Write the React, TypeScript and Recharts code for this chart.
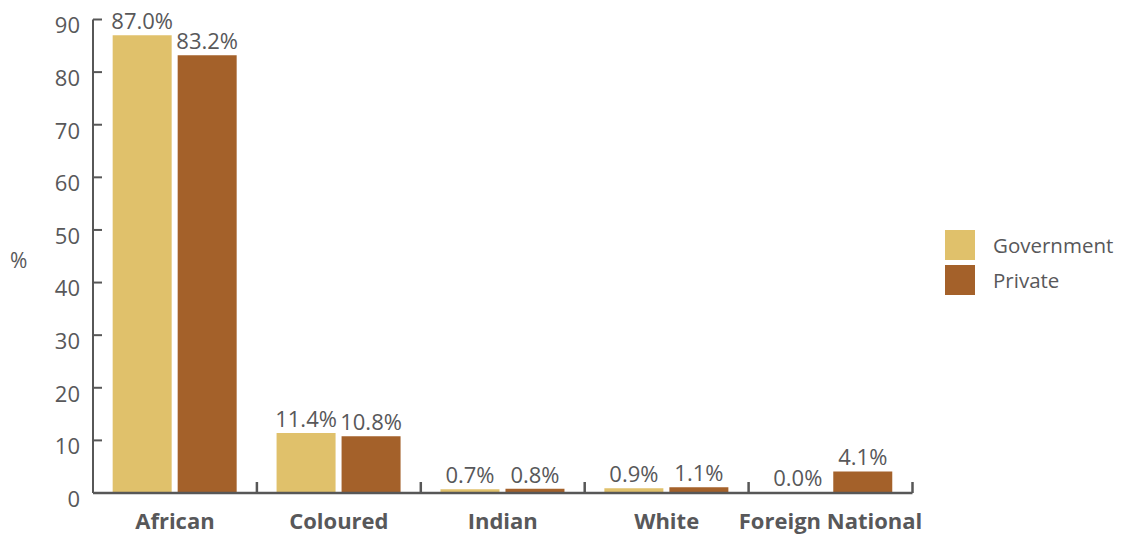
import React from 'react';
import { BarChart, Bar, XAxis, YAxis, Legend, LabelList, Cell } from 'recharts';

const categories = ['African', 'Coloured', 'Indian', 'White', 'Foreign National'];
const government = [87.0, 11.4, 0.7, 0.9, 0.0];
const privateSector = [83.2, 10.8, 0.8, 1.1, 4.1];
const yTicks = [0, 10, 20, 30, 40, 50, 60, 70, 80, 90];
const seriesNames = ['Government', 'Private'];

const GOV = '#E0C16B';
const PRIV = '#A4612A';
const AXIS = '#575757';
const TEXT = '#58585A';
const FONT = '"Open Sans", "Liberation Sans", sans-serif';

const data = categories.map((c, i) => ({ name: c, gov: government[i], priv: privateSector[i] }));

const YTick = (props: any) => {
  const { x, y, payload } = props;
  return (
    <g>
      <line x1={x} x2={x + 9} y1={y} y2={y} stroke={AXIS} strokeWidth={2} />
      <text x={x - 13} y={y + 6} dy="0.36em" textAnchor="end" fill={TEXT} fontSize={22} fontFamily={FONT}>
        {payload.value}
      </text>
    </g>
  );
};

const XTick = (props: any) => {
  const { x, y, payload, width, visibleTicksCount } = props;
  const half = payload && payload.offset > 0 ? payload.offset : width / visibleTicksCount / 2;
  const bx = x + half;
  return (
    <g>
      <line x1={bx} x2={bx} y1={y} y2={y - 11} stroke={AXIS} strokeWidth={2.5} />
      <text x={x} y={y + 36} textAnchor="middle" fill={TEXT} fontSize={22} fontWeight="bold" fontFamily={FONT}>
        {payload.value}
      </text>
    </g>
  );
};

const LegendContent = (props: any) => {
  const items = props.payload || [];
  return (
    <div style={{ fontFamily: FONT }}>
      {items.map((it: any, i: number) => (
        <div key={i} style={{ display: 'flex', alignItems: 'center', height: 30, marginBottom: i === 0 ? 5 : 0 }}>
          <div style={{ width: 30, height: 30, background: it.color }} />
          <span style={{ marginLeft: 18, fontSize: 20.5, color: TEXT }}>{it.value}</span>
        </div>
      ))}
    </div>
  );
};

const fmt = (v: any) => Number(v).toFixed(1) + '%';

export default function App() {
  return (
    <div style={{ position: 'absolute', left: 0, top: 0, width: 1127, height: 538, background: '#fff' }}>
      <BarChart
        width={1127}
        height={538}
        data={data}
        margin={{ top: 19.5, right: 214.5, bottom: 15, left: 0 }}
        barCategoryGap="12%"
        barGap={6}
      >
        <XAxis
          dataKey="name"
          height={30}
          tickLine={false}
          tickSize={0}
          tickMargin={0}
          axisLine={{ stroke: AXIS, strokeWidth: 2.5 }}
          tick={<XTick />}
          interval={0}
        />
        <YAxis
          width={93}
          domain={[0, 90]}
          ticks={yTicks}
          tickLine={false}
          tickSize={0}
          tickMargin={0}
          axisLine={{ stroke: AXIS, strokeWidth: 2 }}
          tick={<YTick />}
          interval={0}
          label={{ value: '%', position: 'insideLeft', offset: 10, dy: 4, fill: TEXT, fontSize: 21, fontFamily: FONT }}
        />
        <Legend
          layout="horizontal"
          verticalAlign="middle"
          align="center"
          wrapperStyle={{ position: 'absolute', left: 945, top: 230, width: 180, height: 70 }}
          content={<LegendContent />}
        />
        <Bar dataKey="gov" name={seriesNames[0]} fill={GOV} minPointSize={1} isAnimationActive={false}>
          {government.map((v, i) => (
            <Cell key={i} fill={v === 0 ? 'transparent' : GOV} />
          ))}
          <LabelList dataKey="gov" position="top" offset={6} formatter={fmt} fill={TEXT} fontSize={22} fontFamily={FONT} />
        </Bar>
        <Bar dataKey="priv" name={seriesNames[1]} fill={PRIV} isAnimationActive={false}>
          <LabelList dataKey="priv" position="top" offset={6} formatter={fmt} fill={TEXT} fontSize={22} fontFamily={FONT} />
        </Bar>
      </BarChart>
    </div>
  );
}
